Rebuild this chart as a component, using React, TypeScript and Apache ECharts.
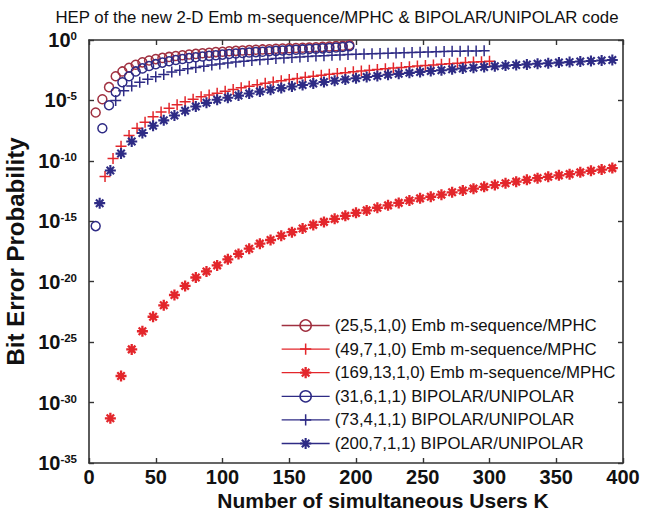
import React, { useEffect, useRef } from "react";
import * as echarts from "echarts";

const FONT = "'Liberation Sans', Arial, Helvetica, sans-serif";

// Series names (legend order = draw order)
const seriesNames = [
  "(25,5,1,0) Emb m-sequence/MPHC",
  "(49,7,1,0) Emb m-sequence/MPHC",
  "(169,13,1,0) Emb m-sequence/MPHC",
  "(31,6,1,1) BIPOLAR/UNIPOLAR",
  "(73,4,1,1) BIPOLAR/UNIPOLAR",
  "(200,7,1,1) BIPOLAR/UNIPOLAR",
];

// Values are log10(Bit Error Probability)
const kCircleRed = [5,10,15,20,25,30,35,40,45,50,55,60,65,70,75,80,85,90,95,100,105,110,115,120,125,130,135,140,145,150,155,160,165,170,175,180,185,190,195];
const logCircleRed = [-6.0,-4.9,-3.9,-3.0,-2.6,-2.3,-2.05,-1.85,-1.7,-1.58,-1.48,-1.4,-1.32,-1.26,-1.2,-1.15,-1.1,-1.05,-1.0,-0.97,-0.93,-0.9,-0.87,-0.84,-0.81,-0.78,-0.76,-0.73,-0.71,-0.68,-0.66,-0.64,-0.62,-0.6,-0.57,-0.54,-0.51,-0.47,-0.42];

const kPlusRed = [12,18,24,30,36,42,48,54,60,66,72,78,84,90,96,102,108,114,120,126,132,138,144,150,156,162,168,174,180,186,192,198,204,210,216,222,228,234,240,246,252,258,264,270,276,282,288,294,300];
const logPlusRed = [-11.3,-9.8,-8.8,-7.9,-7.3,-6.8,-6.35,-5.95,-5.65,-5.35,-5.1,-4.9,-4.7,-4.55,-4.4,-4.25,-4.1,-3.95,-3.82,-3.7,-3.58,-3.47,-3.37,-3.27,-3.18,-3.09,-3.0,-2.92,-2.84,-2.77,-2.7,-2.63,-2.57,-2.5,-2.44,-2.38,-2.32,-2.27,-2.21,-2.16,-2.11,-2.06,-2.01,-1.96,-1.92,-1.87,-1.83,-1.79,-1.75];

const kStarRed = [16,24,32,40,48,56,64,72,80,88,96,104,112,120,128,136,144,152,160,168,176,184,192,200,208,216,224,232,240,248,256,264,272,280,288,296,304,312,320,328,336,344,352,360,368,376,384,392];
const logStarRed = [-31.3,-27.8,-25.6,-24.1,-22.9,-21.95,-21.1,-20.35,-19.65,-19.15,-18.65,-18.15,-17.7,-17.27,-16.85,-16.55,-16.2,-15.9,-15.6,-15.3,-15.05,-14.8,-14.55,-14.3,-14.1,-13.88,-13.68,-13.48,-13.28,-13.1,-12.97,-12.8,-12.6,-12.45,-12.3,-12.15,-12.0,-11.85,-11.72,-11.57,-11.43,-11.32,-11.2,-11.1,-10.95,-10.82,-10.72,-10.6];

const kCircleNavy = [5,10,15,20,25,30,35,40,45,50,55,60,65,70,75,80,85,90,95,100,105,110,115,120,125,130,135,140,145,150,155,160,165,170,175,180,185,190,195];
const logCircleNavy = [-15.4,-7.3,-5.4,-4.3,-3.5,-3.0,-2.6,-2.35,-2.15,-2.0,-1.87,-1.76,-1.66,-1.57,-1.5,-1.43,-1.37,-1.31,-1.26,-1.21,-1.16,-1.12,-1.08,-1.04,-1.0,-0.97,-0.93,-0.9,-0.87,-0.84,-0.81,-0.78,-0.75,-0.72,-0.69,-0.66,-0.62,-0.58,-0.52];

const kPlusNavy = [20,26,32,38,44,50,56,62,68,74,80,86,92,98,104,110,116,122,128,134,140,146,152,158,164,170,176,182,188,194,200,206,212,218,224,230,236,242,248,254,260,266,272,278,284,290,296];
const logPlusNavy = [-5.0,-4.2,-3.8,-3.5,-3.25,-3.05,-2.85,-2.65,-2.5,-2.38,-2.27,-2.17,-2.07,-1.98,-1.9,-1.83,-1.76,-1.7,-1.64,-1.59,-1.54,-1.49,-1.45,-1.41,-1.37,-1.33,-1.3,-1.27,-1.24,-1.21,-1.18,-1.16,-1.13,-1.11,-1.09,-1.07,-1.05,-1.03,-1.01,-0.99,-0.97,-0.96,-0.94,-0.93,-0.91,-0.9,-0.88];

const kStarNavy = [8,16,24,32,40,48,56,64,72,80,88,96,104,112,120,128,136,144,152,160,168,176,184,192,200,208,216,224,232,240,248,256,264,272,280,288,296,304,312,320,328,336,344,352,360,368,376,384,392];
const logStarNavy = [-13.5,-10.8,-9.4,-8.4,-7.7,-7.1,-6.65,-6.25,-5.85,-5.5,-5.2,-4.95,-4.78,-4.6,-4.43,-4.27,-4.12,-3.98,-3.85,-3.72,-3.6,-3.48,-3.37,-3.26,-3.16,-3.06,-2.97,-2.88,-2.8,-2.72,-2.64,-2.57,-2.5,-2.43,-2.36,-2.3,-2.24,-2.18,-2.12,-2.07,-2.02,-1.97,-1.92,-1.87,-1.83,-1.78,-1.74,-1.7,-1.66];

const RED = "#e3262b";
const DARKRED = "#a03040";
const NAVY = "#2e2b85";

const PLUS = "path://M5,0L5,10M0,5L10,5";
const STAR = "path://M5,0L5,10M0,5L10,5M1.6,1.6L8.4,8.4M8.4,1.6L1.6,8.4";

function makeSeries(
  name: string,
  ks: number[],
  logs: number[],
  symbol: string,
  size: number,
  color: string,
  bw: number
) {
  return {
    name,
    type: "line",
    data: ks.map((k, i) => [k, logs[i]]),
    symbol,
    symbolSize: size,
    showSymbol: true,
    showAllSymbol: true,
    lineStyle: { color, width: 1.3, opacity: 0 },
    itemStyle: { color: "rgba(0,0,0,0)", borderColor: color, borderWidth: bw },
    emphasis: { disabled: true },
    silent: true,
  };
}

export default function App() {
  const ref = useRef<HTMLDivElement>(null);
  useEffect(() => {
    if (!ref.current) return;
    const chart = echarts.init(ref.current, null, { renderer: "svg" });
    const axisLine = { show: true, onZero: false, lineStyle: { color: "#333", width: 1.6 } };
    const axisTick = { show: true, inside: true, length: 5, lineStyle: { color: "#333", width: 1.4 } };
    chart.setOption({
      animation: false,
      backgroundColor: "#fff",
      grid: { left: 89, right: 38, top: 40, bottom: 50, containLabel: false, outerBoundsMode: "none" },
      graphic: [
        {
          type: "text",
          x: 337,
          y: 17,
          style: {
            text: "HEP of the new 2-D Emb m-sequence/MPHC & BIPOLAR/UNIPOLAR code",
            fontFamily: FONT,
            fontSize: 16.8,
            fill: "#111",
            textAlign: "center",
            textVerticalAlign: "middle",
          },
        },
        {
          type: "text",
          x: 383,
          y: 500,
          style: {
            text: "Number of simultaneous Users K",
            fontFamily: FONT,
            fontSize: 21,
            fontWeight: "bold",
            fill: "#111",
            textAlign: "center",
            textVerticalAlign: "middle",
          },
        },
      ],
      legend: {
        orient: "vertical",
        left: 281,
        top: 317,
        padding: 0,
        itemWidth: 48,
        itemHeight: 14,
        itemGap: 6.6,
        data: seriesNames,
        textStyle: { fontFamily: FONT, fontSize: 16.8, color: "#111" },
        lineStyle: { width: 1.3, opacity: 1 },
        itemStyle: { borderWidth: "inherit" },
        selectedMode: false,
      },
      xAxis: [
        {
          type: "value",
          min: 0,
          max: 400,
          interval: 50,
          position: "bottom",
          axisLine,
          axisTick,
          splitLine: { show: false },
          axisLabel: { fontFamily: FONT, fontSize: 20, fontWeight: "bold", color: "#111", margin: 4 },
        },
        {
          type: "value",
          min: 0,
          max: 400,
          interval: 50,
          position: "top",
          axisLine,
          axisTick,
          splitLine: { show: false },
          axisLabel: { show: false },
        },
      ],
      yAxis: [
        {
          type: "value",
          min: -35,
          max: 0,
          interval: 5,
          position: "left",
          axisLine,
          axisTick,
          splitLine: { show: false },
          axisLabel: {
            margin: 12,
            formatter: (v: number) => `{b|10}{s|${v}}`,
            rich: {
              b: { fontFamily: FONT, fontSize: 20, fontWeight: "bold", color: "#111", lineHeight: 20 },
              s: { fontFamily: FONT, fontSize: 11.5, fontWeight: "bold", color: "#111", lineHeight: 11, verticalAlign: "top" },
            },
          },
          name: "Bit Error Probability",
          nameLocation: "middle",
          nameGap: 52,
          nameTextStyle: { fontFamily: FONT, fontSize: 24, fontWeight: "bold", color: "#111" },
        },
        {
          type: "value",
          min: -35,
          max: 0,
          interval: 5,
          position: "right",
          axisLine,
          axisTick,
          splitLine: { show: false },
          axisLabel: { show: false },
        },
      ],
      series: [
        makeSeries(seriesNames[0], kCircleRed, logCircleRed, "circle", 9, DARKRED, 1.5),
        makeSeries(seriesNames[1], kPlusRed, logPlusRed, PLUS, 11, RED, 1.5),
        makeSeries(seriesNames[2], kStarRed, logStarRed, STAR, 11, RED, 2.3),
        makeSeries(seriesNames[3], kCircleNavy, logCircleNavy, "circle", 9, NAVY, 1.5),
        makeSeries(seriesNames[4], kPlusNavy, logPlusNavy, PLUS, 11, NAVY, 1.5),
        makeSeries(seriesNames[5], kStarNavy, logStarNavy, STAR, 11, NAVY, 2.1),
      ],
    });
    return () => chart.dispose();
  }, []);
  return (
    <div
      ref={ref}
      style={{ position: "fixed", left: 0, top: 0, width: 661, height: 513 }}
    />
  );
}
